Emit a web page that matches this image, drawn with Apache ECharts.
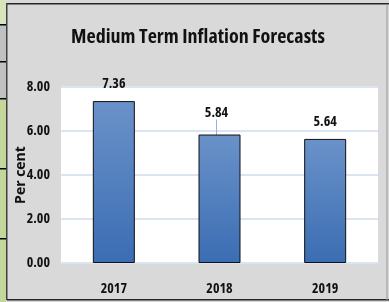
<!DOCTYPE html>
<html>
<head>
<meta charset="utf-8">
<script src="https://cdn.jsdelivr.net/npm/echarts@6/dist/echarts.min.js"></script>
<style>
  html, body { margin: 0; padding: 0; background: #d9d9d9; }
  #chart { width: 389px; height: 302px; background: #d9d9d9; }
</style>
</head>
<body>
<div id="chart"></div>
<script>
// data
const years = ['2017', '2018', '2019']
const forecasts = [7.36, 5.84, 5.64]
const yTicks = { min: 0, max: 8, interval: 2 }

// calibri-like: condensed bold Open Sans
const narrow = '"Open Sans", sans-serif'
const narrowBold = 'bold condensed'

const chart = echarts.init(document.getElementById('chart'))

// the bits of spreadsheet showing around the chart
const sideStrip = [
  { y: 0, h: 24, c: '#d8e4bc' },
  { y: 25, h: 36, c: '#c0c0c0' },
  { y: 62, h: 36, c: '#c0c0c0' },
  { y: 99, h: 69, c: '#c4d79b' },
  { y: 169, h: 69, c: '#c4d79b' },
  { y: 239, h: 63, c: '#c4d79b' }
]
const frame = []
sideStrip.forEach(s => {
  frame.push({ type: 'rect', shape: { x: 0, y: s.y, width: 6, height: s.h }, style: { fill: s.c }, silent: true })
  if (s.y > 0) frame.push({ type: 'rect', shape: { x: 0, y: s.y - 1, width: 6, height: 1.5 }, style: { fill: '#000' }, silent: true })
})
frame.push(
  { type: 'rect', shape: { x: 7, y: 3, width: 382, height: 1.5 }, style: { fill: '#262626' }, silent: true },
  { type: 'rect', shape: { x: 6, y: 3, width: 1.5, height: 297 }, style: { fill: '#404040' }, silent: true },
  { type: 'rect', shape: { x: 7, y: 299, width: 382, height: 1.5 }, style: { fill: '#262626' }, silent: true },
  { type: 'rect', shape: { x: 386.5, y: 4, width: 1, height: 296 }, style: { fill: '#9a9a9a' }, silent: true }
)

chart.setOption({
  backgroundColor: '#d9d9d9',
  animation: false,
  graphic: frame,
  title: {
    text: 'Medium Term Inflation Forecasts',
    left: 193,
    top: 22,
    textAlign: 'center',
    textStyle: {
      fontFamily: narrow,
      fontSize: 20,
      fontWeight: narrowBold,
      color: '#111'
    }
  },
  grid: {
    left: 61,
    right: 11,
    top: 87,
    bottom: 39
  },
  xAxis: {
    type: 'category',
    data: years,
    axisLine: { show: true, lineStyle: { color: '#dbe5f1', width: 2 } },
    axisTick: { show: false },
    axisLabel: {
      margin: 19,
      fontFamily: narrow,
      fontSize: 14,
      fontWeight: narrowBold,
      color: '#111'
    }
  },
  yAxis: {
    type: 'value',
    min: yTicks.min,
    max: yTicks.max,
    interval: yTicks.interval,
    name: 'Per cent',
    nameLocation: 'middle',
    nameGap: 33,
    nameMoveOverlap: false,
    nameTextStyle: {
      fontFamily: narrow,
      fontSize: 14,
      fontWeight: 'bold',
      color: '#111'
    },
    axisLine: { show: false },
    axisTick: { show: false },
    splitLine: { lineStyle: { color: '#dbe5f1', width: 2 } },
    // white plot area
    splitArea: { show: true, areaStyle: { color: ['#ffffff'] } },
    axisLabel: {
      margin: 11,
      formatter: v => v.toFixed(2),
      fontFamily: narrow,
      fontSize: 14,
      fontWeight: narrowBold,
      color: '#111'
    }
  },
  series: [{
    type: 'bar',
    barWidth: 42,
    // 2018 label carries a thin leader line in the original
    data: forecasts.map((v, i) => i === 1 ? { value: v, labelLine: { show: true } } : v),
    itemStyle: {
      borderColor: '#111',
      borderWidth: 1,
      color: new echarts.graphic.LinearGradient(0, 0, 0, 1, [
        { offset: 0, color: '#6a92c9' },
        { offset: 1, color: '#3b6db3' }
      ])
    },
    label: {
      show: true,
      position: 'top',
      distance: 10,
      formatter: p => p.value.toFixed(2),
      fontFamily: narrow,
      fontSize: 14,
      fontWeight: narrowBold,
      color: '#111'
    },
    labelLayout: p => p.dataIndex === 1 ? { dx: -3, dy: -5 } : {},
    labelLine: {
      show: false,
      lineStyle: { color: '#95b3d7', width: 1 }
    }
  }]
})
</script>
</body>
</html>
